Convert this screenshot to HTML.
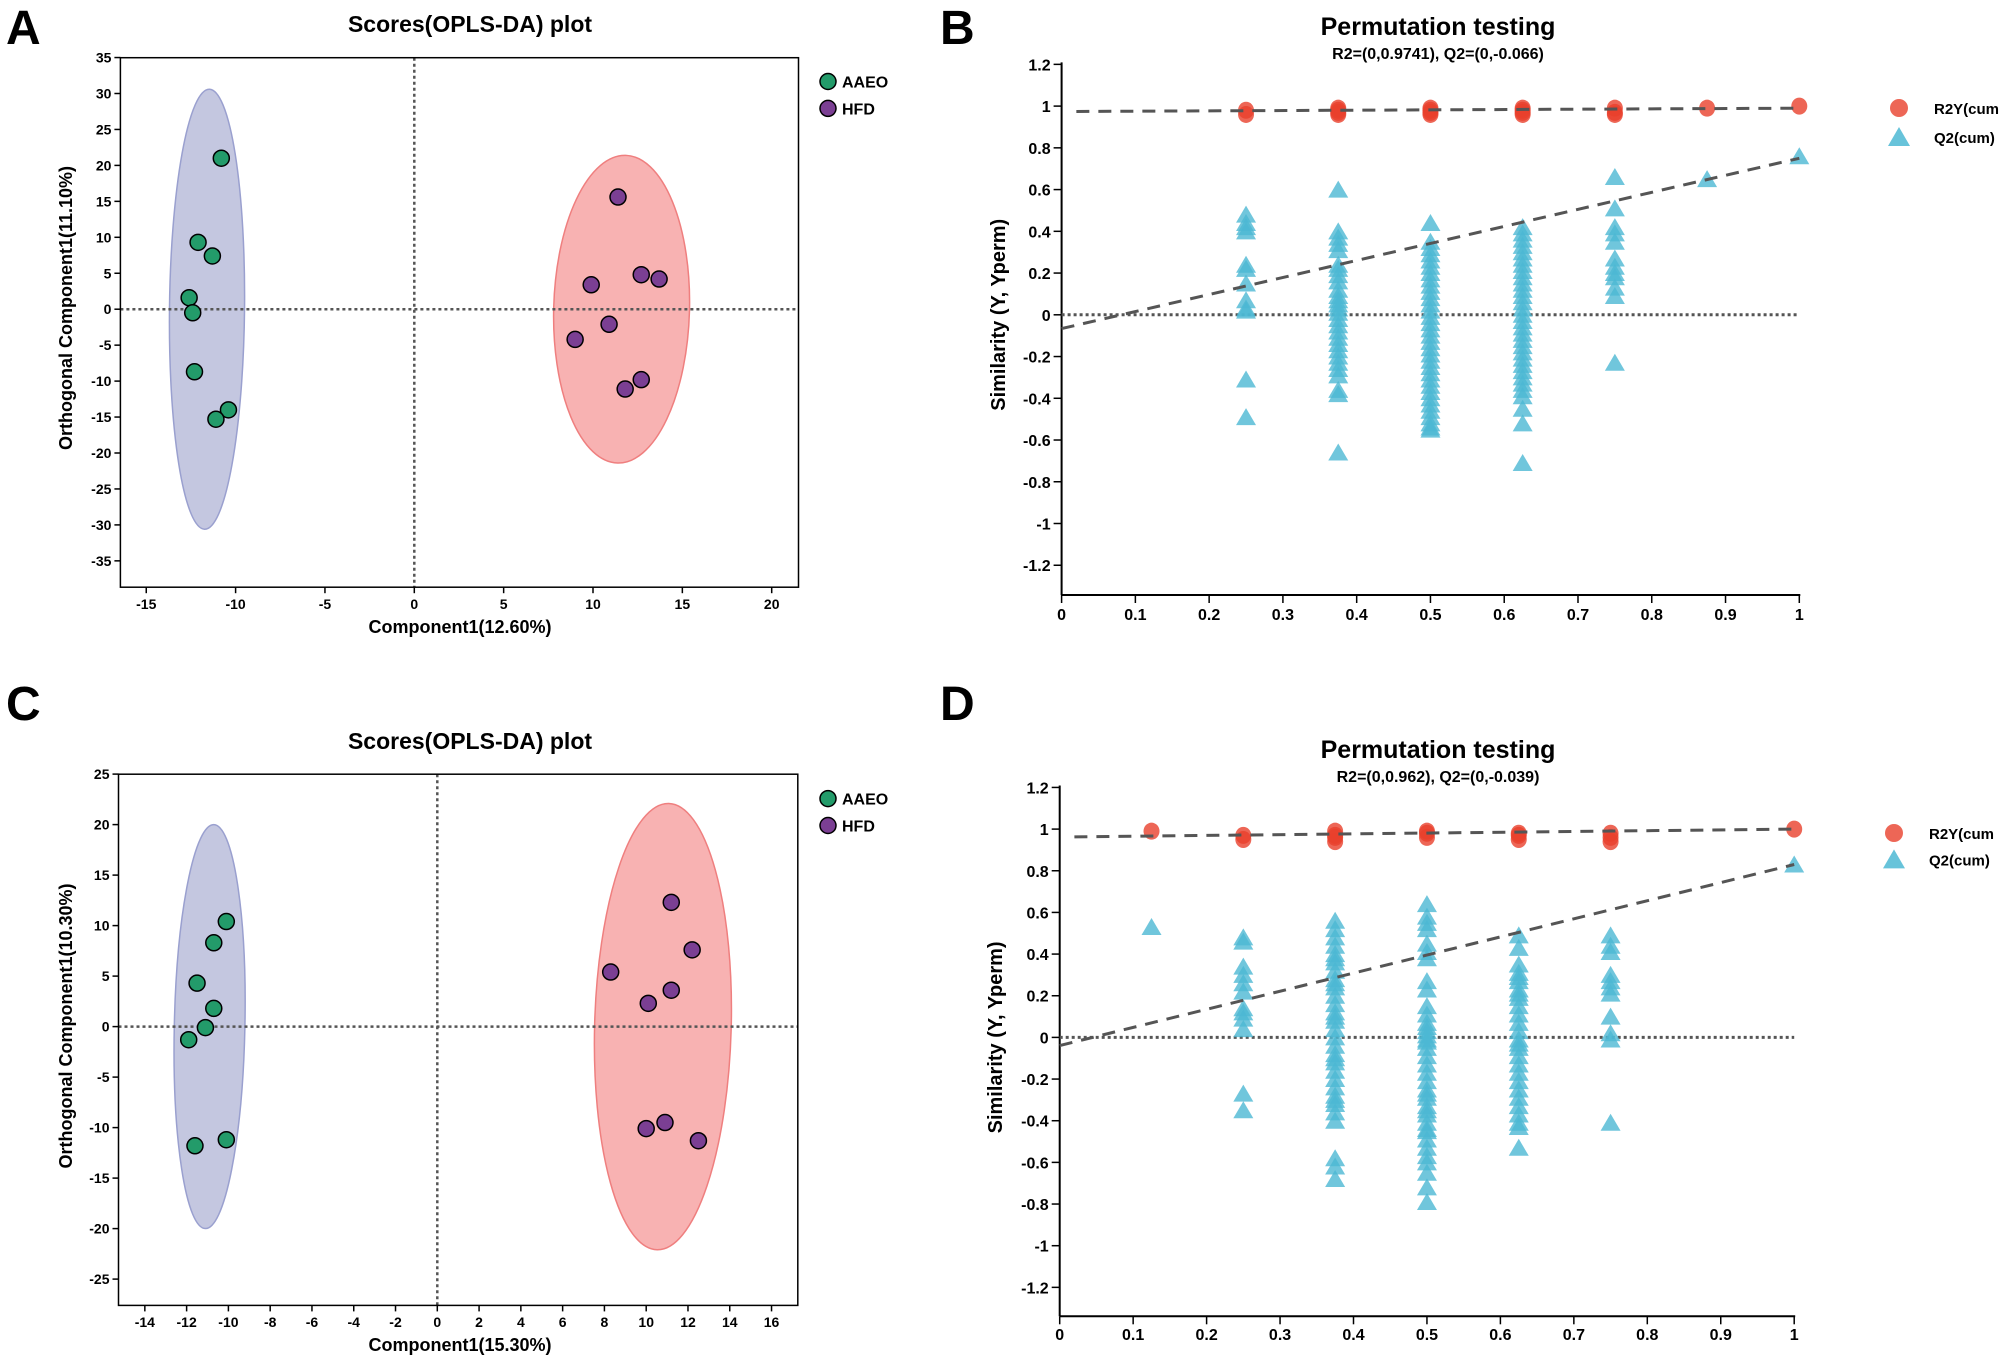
<!DOCTYPE html>
<html><head><meta charset="utf-8"><style>
html,body{margin:0;padding:0;background:#fff;}
svg{display:block;}
text{font-family:"Liberation Sans Narrow","Liberation Sans",sans-serif;font-weight:bold;fill:#000;}
.wide{font-family:"Liberation Sans",sans-serif;}
</style></head><body>
<svg id="fig" xmlns="http://www.w3.org/2000/svg" width="2008" height="1361" viewBox="0 0 2008 1361"></svg>
<script>
// ---- Panel A data ----
const aAaeoX = [-10.8,-12.1,-11.3,-12.6,-12.4,-12.3,-10.4,-11.1];
const aAaeoY = [21,9.3,7.4,1.6,-0.5,-8.7,-14,-15.3];
const aHfdX = [11.4,9.9,12.7,13.7,10.9,9.0,11.8,12.7];
const aHfdY = [15.6,3.4,4.8,4.2,-2.1,-4.2,-11.1,-9.8];
const aXTicks = [-15,-10,-5,0,5,10,15,20];
const aYTicks = [35,30,25,20,15,10,5,0,-5,-10,-15,-20,-25,-30,-35];
// ---- Panel C data ----
const cAaeoX = [-10.1,-10.7,-11.5,-10.7,-11.1,-11.9,-11.6,-10.1];
const cAaeoY = [10.4,8.3,4.3,1.8,-0.1,-1.3,-11.8,-11.2];
const cHfdX = [11.2,12.2,8.3,11.2,10.1,10.0,10.9,12.5];
const cHfdY = [12.3,7.6,5.4,3.6,2.3,-10.1,-9.5,-11.3];
const cXTicks = [-14,-12,-10,-8,-6,-4,-2,0,2,4,6,8,10,12,14,16];
const cYTicks = [25,20,15,10,5,0,-5,-10,-15,-20,-25];
// ---- Panel B data ----
const bQ2X = [0.25,0.25,0.25,0.25,0.25,0.25,0.25,0.25,0.25,0.25,0.25,0.25,
 0.375,0.375,0.375,0.375,0.375,0.375,0.375,0.375,0.375,0.375,0.375,0.375,0.375,0.375,0.375,0.375,0.375,0.375,0.375,0.375,0.375,0.375,0.375,0.375,0.375,0.375,0.375,0.375,
 0.5,0.5,0.5,0.5,0.5,0.5,0.5,0.5,0.5,0.5,0.5,0.5,0.5,0.5,0.5,0.5,0.5,0.5,0.5,0.5,0.5,0.5,0.5,0.5,0.5,0.5,0.5,0.5,0.5,0.5,0.5,0.5,0.5,
 0.625,0.625,0.625,0.625,0.625,0.625,0.625,0.625,0.625,0.625,0.625,0.625,0.625,0.625,0.625,0.625,0.625,0.625,0.625,0.625,0.625,0.625,0.625,0.625,0.625,0.625,0.625,0.625,0.625,0.625,0.625,
 0.75,0.75,0.75,0.75,0.75,0.75,0.75,0.75,0.75,0.75,0.75,0.75,0.875,1];
const bQ2Y = [0.48,0.44,0.42,0.40,0.24,0.22,0.15,0.07,0.03,0.02,-0.31,-0.49,
 0.60,0.40,0.37,0.34,0.31,0.24,0.22,0.19,0.16,0.12,0.09,0.07,0.05,0.03,0.01,-0.02,-0.05,-0.08,-0.11,-0.14,-0.17,-0.20,-0.23,-0.26,-0.29,-0.36,-0.38,-0.66,
 0.44,0.35,0.32,0.29,0.26,0.23,0.20,0.17,0.14,0.11,0.08,0.05,0.02,-0.01,-0.04,-0.07,-0.10,-0.13,-0.16,-0.19,-0.22,-0.25,-0.28,-0.31,-0.34,-0.37,-0.40,-0.43,-0.46,-0.49,-0.52,-0.54,-0.55,
 0.42,0.39,0.36,0.33,0.30,0.27,0.24,0.21,0.18,0.15,0.12,0.09,0.06,0.03,0.00,-0.03,-0.06,-0.09,-0.12,-0.15,-0.18,-0.21,-0.24,-0.27,-0.30,-0.33,-0.36,-0.39,-0.45,-0.52,-0.71,
 0.66,0.51,0.42,0.39,0.35,0.27,0.23,0.20,0.18,0.13,0.09,-0.23,0.65,0.76];
const bR2X = [0.25,0.25,0.375,0.375,0.375,0.375,0.5,0.5,0.5,0.5,0.625,0.625,0.625,0.625,0.75,0.75,0.75,0.875,1];
const bR2Y = [0.98,0.96,0.99,0.98,0.97,0.96,0.99,0.98,0.97,0.96,0.99,0.98,0.97,0.96,0.99,0.97,0.96,0.99,1.0];
const bR2Line = [0.974,0.99];
const bQ2Line = [-0.066,0.75];
// ---- Panel D data ----
const dQ2X = [0.125,
 0.25,0.25,0.25,0.25,0.25,0.25,0.25,0.25,0.25,0.25,0.25,0.25,
 0.375,0.375,0.375,0.375,0.375,0.375,0.375,0.375,0.375,0.375,0.375,0.375,0.375,0.375,0.375,0.375,0.375,0.375,0.375,0.375,0.375,0.375,0.375,0.375,0.375,0.375,0.375,0.375,0.375,0.375,0.375,0.375,0.375,
 0.5,0.5,0.5,0.5,0.5,0.5,0.5,0.5,0.5,0.5,0.5,0.5,0.5,0.5,0.5,0.5,0.5,0.5,0.5,0.5,0.5,0.5,0.5,0.5,0.5,0.5,0.5,0.5,0.5,0.5,0.5,0.5,0.5,0.5,0.5,0.5,0.5,0.5,
 0.625,0.625,0.625,0.625,0.625,0.625,0.625,0.625,0.625,0.625,0.625,0.625,0.625,0.625,0.625,0.625,0.625,0.625,0.625,0.625,0.625,0.625,0.625,0.625,0.625,0.625,0.625,
 0.75,0.75,0.75,0.75,0.75,0.75,0.75,0.75,0.75,0.75,0.75,1];
const dQ2Y = [0.53,
 0.48,0.46,0.34,0.30,0.26,0.22,0.14,0.12,0.09,0.04,-0.27,-0.35,
 0.56,0.52,0.48,0.44,0.40,0.36,0.32,0.28,0.24,0.20,0.16,0.12,0.08,0.04,0.00,-0.04,-0.08,-0.12,-0.16,-0.20,-0.24,-0.28,-0.32,-0.36,-0.40,-0.58,-0.62,-0.68,-0.30,-0.10,0.10,0.26,0.38,
 0.64,0.58,0.55,0.52,0.45,0.41,0.38,0.27,0.23,0.15,0.11,0.07,0.03,-0.01,-0.05,-0.09,-0.13,-0.17,-0.21,-0.25,-0.29,-0.33,-0.37,-0.41,-0.45,-0.49,-0.53,-0.57,-0.60,-0.65,-0.72,-0.79,0.01,-0.02,0.05,-0.35,-0.44,-0.27,
 0.49,0.43,0.35,0.31,0.27,0.23,0.19,0.15,0.11,0.07,0.03,-0.01,-0.05,-0.09,-0.13,-0.17,-0.21,-0.25,-0.29,-0.33,-0.37,-0.41,-0.43,-0.53,0.29,0.21,-0.03,
 0.49,0.44,0.41,0.30,0.27,0.24,0.21,0.10,0.02,-0.01,-0.41,0.83];
const dR2X = [0.125,0.25,0.25,0.375,0.375,0.375,0.375,0.5,0.5,0.5,0.625,0.625,0.625,0.75,0.75,0.75,1];
const dR2Y = [0.99,0.97,0.95,0.99,0.97,0.96,0.94,0.99,0.98,0.96,0.98,0.97,0.95,0.98,0.96,0.94,1.0];
const dR2Line = [0.962,1.0];
const dQ2Line = [-0.039,0.83];
const permTicksY = [1.2,1,0.8,0.6,0.4,0.2,0,-0.2,-0.4,-0.6,-0.8,-1,-1.2];
const permTicksX = [0,0.1,0.2,0.3,0.4,0.5,0.6,0.7,0.8,0.9,1];

const NS = "http://www.w3.org/2000/svg";
const svg = document.getElementById('fig');
function el(tag, attrs, parent) {
  const e = document.createElementNS(NS, tag);
  for (const k in attrs) e.setAttribute(k, attrs[k]);
  (parent || svg).appendChild(e);
  return e;
}
function txt(s, attrs, parent) { const t = el('text', attrs, parent); t.textContent = s; return t; }
function fmt(v){ return (Math.round(v*10)/10).toString(); }

function scatterPanel(o) {
  const g = el('g', {});
  
  
  const sx = v => o.x0 + (v - o.xa) * (o.x1 - o.x0) / (o.xb - o.xa);
  const sy = v => o.y0 + (v - o.ya) * (o.y1 - o.y0) / (o.yb - o.ya);
  const L = txt(o.letter, {x:o.letterX, y:o.letterY, 'font-size':48}, g);
  
  
  const T = txt('Scores(OPLS-DA) plot', {x:470, y:o.titleY, 'font-size':23, 'text-anchor':'middle'}, g);
  
  
  const e1 = el('ellipse', {cx:sx(o.e1[0]), cy:sy(o.e1[1]), rx:Math.abs(sx(o.e1[2])-sx(0)), ry:Math.abs(sy(o.e1[3])-sy(0)), fill:'#c4c7e0', stroke:'#9aa0cf', 'stroke-width':1.5, transform:'rotate('+o.e1[4]+' '+sx(o.e1[0])+' '+sy(o.e1[1])+')'}, g);
  
  
  const e2 = el('ellipse', {cx:sx(o.e2[0]), cy:sy(o.e2[1]), rx:Math.abs(sx(o.e2[2])-sx(0)), ry:Math.abs(sy(o.e2[3])-sy(0)), fill:'#f8b2b2', stroke:'#ef7f7f', 'stroke-width':1.5, transform:'rotate('+o.e2[4]+' '+sx(o.e2[0])+' '+sy(o.e2[1])+')'}, g);
  
  
  el('line', {x1:sx(0), x2:sx(0), y1:o.boxTop, y2:o.boxBot, stroke:'#555', 'stroke-width':2.5, 'stroke-dasharray':'3,3'}, g);
  el('line', {x1:o.boxL, x2:o.boxR, y1:sy(0), y2:sy(0), stroke:'#555', 'stroke-width':2.5, 'stroke-dasharray':'3,3'}, g);
  el('rect', {x:o.boxL, y:o.boxTop, width:o.boxR-o.boxL, height:o.boxBot-o.boxTop, fill:'none', stroke:'#000', 'stroke-width':1.5}, g);
  o.xt.forEach(v => {
    el('line', {x1:sx(v), x2:sx(v), y1:o.boxBot, y2:o.boxBot+6, stroke:'#000', 'stroke-width':1.5}, g);
    const t = txt(fmt(v), {x:sx(v), y:o.xtY, 'font-size':14, 'text-anchor':'middle'}, g);
    
    
  });
  o.yt.forEach(v => {
    el('line', {x1:o.boxL-6, x2:o.boxL, y1:sy(v), y2:sy(v), stroke:'#000', 'stroke-width':1.5}, g);
    const t = txt(fmt(v), {x:o.boxL-9, y:sy(v)+5, 'font-size':14, 'text-anchor':'end'}, g);
    
    
  });
  const xt = txt(o.xTitle, {x:460, y:o.xTitleY, 'font-size':18, 'text-anchor':'middle'}, g);
  
  
  const yt = txt(o.yTitle, {x:0, y:0, 'font-size':18, 'text-anchor':'middle', 'class':'wide', transform:'translate(72,'+o.yTitleY+') rotate(-90)'}, g);
  
  
  o.ax.forEach((v,i) => {
    const c = el('circle', {cx:sx(v), cy:sy(o.ay[i]), r:8, fill:'#239b6a', stroke:'#000', 'stroke-width':1.5}, g);
    
    
  });
  o.hx.forEach((v,i) => {
    const c = el('circle', {cx:sx(v), cy:sy(o.hy[i]), r:8, fill:'#7b3f93', stroke:'#000', 'stroke-width':1.5}, g);
    
    
  });
  const lg = el('g', {}, g);
  
  
  el('circle', {cx:828, cy:o.legY1, r:8, fill:'#239b6a', stroke:'#000', 'stroke-width':1.5}, lg);
  const l1 = txt('AAEO', {x:842, y:o.legY1+6, 'font-size':16}, lg);
  
  
  el('circle', {cx:828, cy:o.legY2, r:8, fill:'#7b3f93', stroke:'#000', 'stroke-width':1.5}, lg);
  const l2 = txt('HFD', {x:842, y:o.legY2+6, 'font-size':16}, lg);
  
  
}

function permPanel(o) {
  const g = el('g', {});
  
  
  const sx = v => o.x0 + v * (o.x1 - o.x0);
  const sy = v => o.yz - v * o.ys;
  const L = txt(o.letter, {x:o.letterX, y:o.letterY, 'font-size':48}, g);
  
  
  const T = txt('Permutation testing', {x:1438, y:o.titleY, 'font-size':25, 'text-anchor':'middle'}, g);
  
  
  const S = txt(o.sub, {x:1438, y:o.subY, 'font-size':16, 'text-anchor':'middle'}, g);
  
  
  el('line', {x1:o.x0, x2:o.x0, y1:sy(1.2)-2, y2:o.axisY, stroke:'#000', 'stroke-width':2}, g);
  el('line', {x1:o.x0, x2:o.x1+1, y1:o.axisY, y2:o.axisY, stroke:'#000', 'stroke-width':2}, g);
  permTicksY.forEach(v => {
    el('line', {x1:o.x0-8, x2:o.x0, y1:sy(v), y2:sy(v), stroke:'#000', 'stroke-width':1.5}, g);
    const t = txt(fmt(v), {x:o.x0-11, y:sy(v)+6, 'font-size':16, 'text-anchor':'end'}, g);
    
    
  });
  permTicksX.forEach(v => {
    el('line', {x1:sx(v), x2:sx(v), y1:o.axisY, y2:o.axisY+8, stroke:'#000', 'stroke-width':1.5}, g);
    const t = txt(fmt(v), {x:sx(v), y:o.xtY, 'font-size':16, 'text-anchor':'middle'}, g);
    
    
  });
  const yt = txt('Similarity (Y, Yperm)', {x:0, y:0, 'font-size':20, 'text-anchor':'middle', 'class':'wide', transform:'translate('+o.yTitleX+','+sy(0)+') rotate(-90)'}, g);
  
  
  el('line', {x1:o.x0, x2:sx(1), y1:sy(0), y2:sy(0), stroke:'#555', 'stroke-width':3, 'stroke-dasharray':'3,3'}, g);
  o.qx.forEach((v,i) => {
    const x = sx(v), y = sy(o.qy[i]);
    const p = el('polygon', {points:(x-10)+','+(y+8)+' '+(x+10)+','+(y+8)+' '+x+','+(y-9), fill:'#4cb8d3', 'fill-opacity':0.8}, g);
    
    
  });
  o.rx.forEach((v,i) => {
    const c = el('ellipse', {cx:sx(v), cy:sy(o.ry[i]), rx:8, ry:8.5, fill:'#e8402c', 'fill-opacity':0.8}, g);
    
    
  });
  const r = el('line', {x1:sx(0.02), x2:sx(1), y1:sy(o.rl[0]+0.02*(o.rl[1]-o.rl[0])), y2:sy(o.rl[1]), stroke:'#555', 'stroke-width':3, 'stroke-dasharray':'13,9'}, g);
  
  
  const q = el('line', {x1:sx(0), x2:sx(1), y1:sy(o.ql[0]), y2:sy(o.ql[1]), stroke:'#555', 'stroke-width':3, 'stroke-dasharray':'13,9'}, g);
  
  
  const lg = el('g', {}, g);
  
  
  el('ellipse', {cx:o.legX, cy:o.legY1, rx:9, ry:9, fill:'#e8402c', 'fill-opacity':0.8}, lg);
  const l1 = txt('R2Y(cum', {x:o.legX+35, y:o.legY1+6, 'font-size':15}, lg);
  
  
  el('polygon', {points:(o.legX-11)+','+(o.legY2+9)+' '+(o.legX+11)+','+(o.legY2+9)+' '+o.legX+','+(o.legY2-10), fill:'#4cb8d3', 'fill-opacity':0.85}, lg);
  const l2 = txt('Q2(cum)', {x:o.legX+35, y:o.legY2+6, 'font-size':15}, lg);
  
  
}

scatterPanel({name:'panel-a-scores-plot', letter:'A', letterX:6, letterY:44, titleY:32,
  xa:0, xb:20, x0:414.3, x1:414.3+20*17.87, ya:0, yb:35, y0:309.2, y1:309.2-35*7.19,
  boxL:120.4, boxR:798.5, boxTop:57.7, boxBot:587.2, xt:aXTicks, yt:aYTicks, xtY:609, xTitle:'Component1(12.60%)', xTitleY:633,
  yTitle:'Orthogonal Component1(11.10%)', yTitleY:308,
  ax:aAaeoX, ay:aAaeoY, hx:aHfdX, hy:aHfdY, e1:[-11.6,0,2.1,30.6,0.6], e2:[11.6,0,3.8,21.4,1.5], legY1:81.5, legY2:108.4});

scatterPanel({name:'panel-c-scores-plot', letter:'C', letterX:6, letterY:720, titleY:749,
  xa:0, xb:16, x0:437.3, x1:437.3+16*20.89, ya:0, yb:25, y0:1026.6, y1:1026.6-25*10.1,
  boxL:118.5, boxR:797.8, boxTop:774.2, boxBot:1305.4, xt:cXTicks, yt:cYTicks, xtY:1327, xTitle:'Component1(15.30%)', xTitleY:1351,
  yTitle:'Orthogonal Component1(10.30%)', yTitleY:1026,
  ax:cAaeoX, ay:cAaeoY, hx:cHfdX, hy:cHfdY, e1:[-10.9,0,1.69,20,1.2], e2:[10.8,0,3.27,22.1,1.5], legY1:798.6, legY2:825.5});

permPanel({name:'panel-b-permutation-test', letter:'B', letterX:940, letterY:44, titleY:35, subY:59,
  sub:'R2=(0,0.9741), Q2=(0,-0.066)', x0:1061.6, x1:1799.3, yz:314.8, ys:208.7, axisY:595, xtY:620,
  yTitleX:1005, qx:bQ2X, qy:bQ2Y, rx:bR2X, ry:bR2Y, rl:bR2Line, ql:bQ2Line, legX:1899, legY1:108, legY2:137});

permPanel({name:'panel-d-permutation-test', letter:'D', letterX:940, letterY:720, titleY:758, subY:782,
  sub:'R2=(0,0.962), Q2=(0,-0.039)', x0:1059.7, x1:1794.2, yz:1037.4, ys:208.3, axisY:1316.3, xtY:1340,
  yTitleX:1002, qx:dQ2X, qy:dQ2Y, rx:dR2X, ry:dR2Y, rl:dR2Line, ql:dQ2Line, legX:1894, legY1:833, legY2:859.4});
</script>
</body></html>
